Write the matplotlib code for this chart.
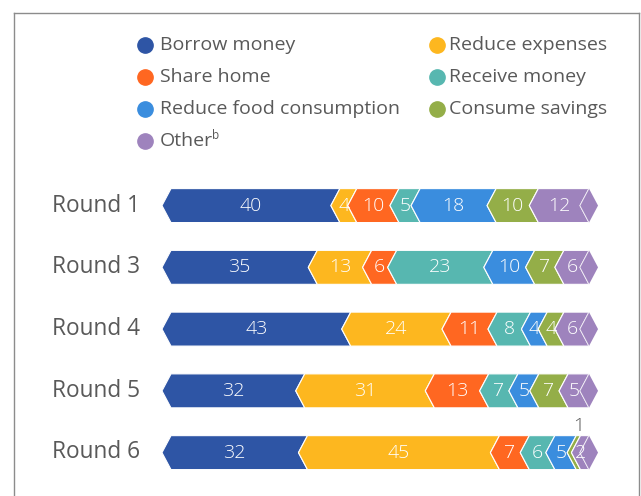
import matplotlib
matplotlib.use("Agg")
import matplotlib.pyplot as plt
from matplotlib.patches import Polygon
from matplotlib.lines import Line2D

plt.rcParams['font.family'] = ['Open Sans', 'DejaVu Sans']

rounds = ['Round 1', 'Round 3', 'Round 4', 'Round 5', 'Round 6']
categories = ['Borrow money', 'Reduce expenses', 'Share home', 'Receive money',
              'Reduce food consumption', 'Consume savings', 'Other']
colors = ['#2E55A5', '#FDB71F', '#FF6721', '#57B7B0', '#3A8DDE', '#94AE48', '#9E83BD']

borrow_money = [40, 35, 43, 32, 32]
reduce_expenses = [4, 13, 24, 31, 45]
share_home = [10, 6, 11, 13, 7]
receive_money = [5, 23, 8, 7, 6]
reduce_food = [18, 10, 4, 5, 5]
consume_savings = [10, 7, 4, 7, 1]
other = [12, 6, 6, 5, 2]

series = [borrow_money, reduce_expenses, share_home, receive_money,
          reduce_food, consume_savings, other]

W, H = 641, 496
fig = plt.figure(figsize=(W / 100, H / 100), dpi=100)

# bar area: x=0 at px 171, x=100 at px 589; rows centred at 205..452 px
ax = fig.add_axes([171 / W, 1 - 483.5 / H, 418 / W, 308.8 / H])
ax.set_xlim(0, 100)
ax.set_ylim(4.5, -0.5)
ax.axis('off')

bar_h = 0.55
d = 2.16  # chevron depth in data units
grey = '#595959'

for i, name in enumerate(rounds):
    top, bot, mid = i - bar_h / 2, i + bar_h / 2, i
    total = sum(s[i] for s in series)  # rounded shares, rescale to 100 %
    left = 0
    for j, vals in enumerate(series):
        v = vals[i]
        right = left + v * 100 / total
        pts = [(left, top), (right, top), (right - d, mid), (right, bot),
               (left, bot), (left - d, mid)]
        ax.add_patch(Polygon(pts, closed=True, facecolor=colors[j],
                             edgecolor='white', linewidth=0.8, clip_on=False,
                             zorder=2))
        cx = (left + right) / 2 - d / 2
        if v <= 1:
            ax.text(right - 0.3, top - 0.01, str(v), ha='center', va='bottom',
                    color=grey, fontsize=14, fontweight='light', clip_on=False)
        else:
            ax.text(cx, mid, str(v), ha='center', va='center', color='white',
                    fontsize=14, fontweight='light', zorder=4, clip_on=False)
        left = right
    # pointed cap on the last segment
    cap = [(left, top), (left + d, mid), (left, bot), (left - d, mid)]
    ax.add_patch(Polygon(cap, closed=True, facecolor=colors[-1],
                         edgecolor='none', clip_on=False, zorder=2))
    ax.plot([left, left - d, left], [top, mid, bot], color='white',
            alpha=0.6, linewidth=0.6, zorder=3, clip_on=False)
    fig.text(140 / W, 1 - (205.5 + i * 61.75) / H, name, ha='right',
             va='center', fontsize=16.3, color=grey)

# legend, two columns: (column, row) for each category
col_x = [(145, 160), (437, 449)]
order = [(0, 0), (1, 0), (0, 1), (1, 1), (0, 2), (1, 2), (0, 3)]
rows_y = [45, 77, 109, 141]
renderer = fig.canvas.get_renderer()
for k, cat in enumerate(categories):
    col, row = order[k]
    mx, tx = col_x[col]
    y = 1 - rows_y[row] / H
    fig.add_artist(Line2D([mx / W], [y], marker='o', markersize=11,
                          color=colors[k], linestyle='none'))
    t = fig.text(tx / W, y, cat, ha='left', va='center', fontsize=14,
                 color=grey)
    if cat == 'Other':
        bb = t.get_window_extent(renderer)
        fig.text((bb.x1 - 1) / W, y + 0.012, 'b', ha='left', va='center',
                 fontsize=8.5, color=grey)

# frame around the figure
fc = '#8c8c8c'
fig.add_artist(Line2D([13.5 / W, 13.5 / W], [0, 1 - 12.5 / H], color=fc, lw=1))
fig.add_artist(Line2D([13.5 / W, 638.5 / W], [1 - 12.5 / H, 1 - 12.5 / H], color=fc, lw=1))
fig.add_artist(Line2D([638.5 / W, 638.5 / W], [0, 1 - 12.5 / H], color=fc, lw=1))

fig.savefig('out.png', dpi=100)
